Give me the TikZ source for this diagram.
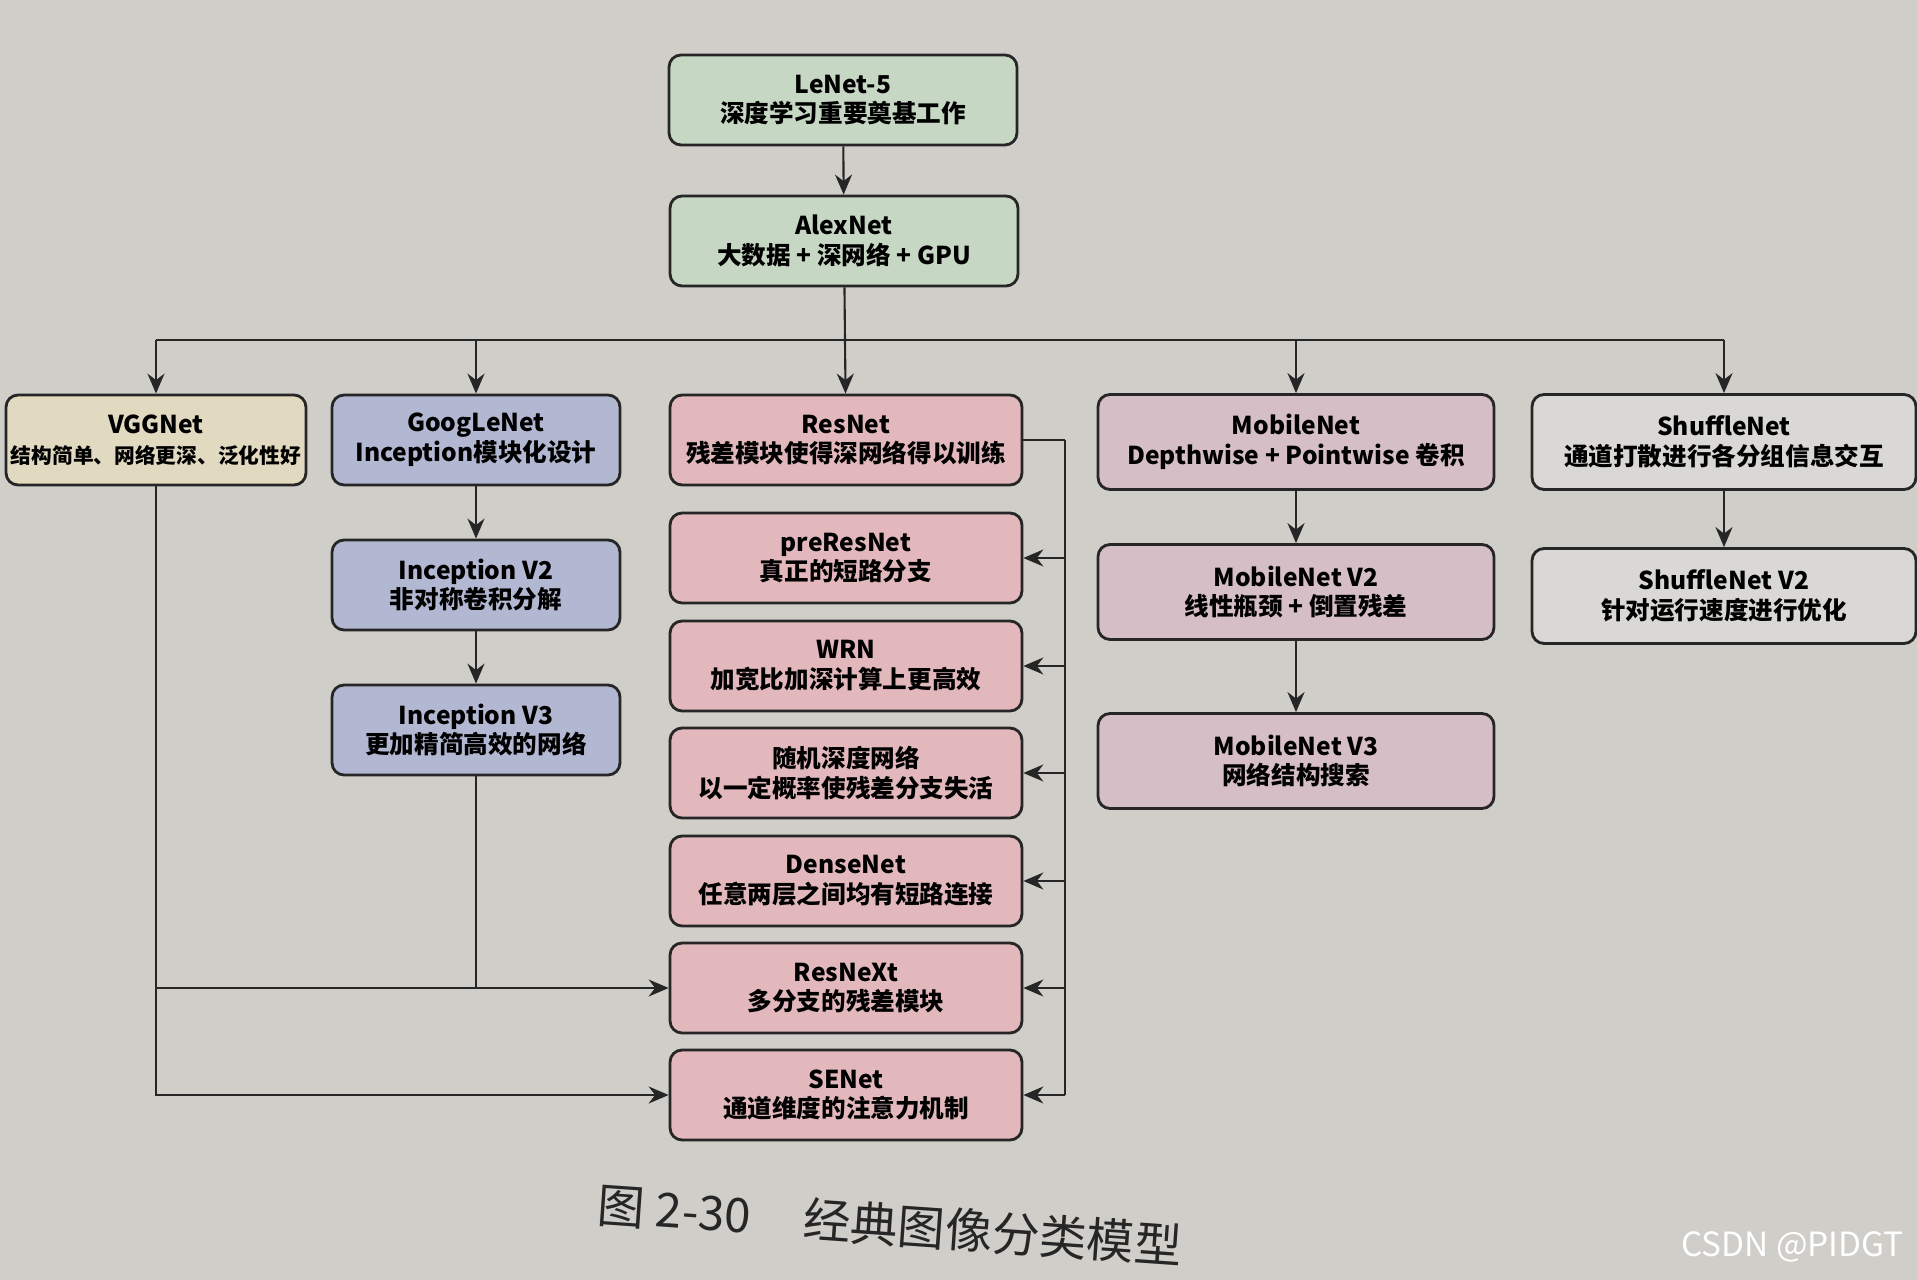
\documentclass[tikz,border=0pt]{standalone}
\usepackage{fontspec}
\setmainfont{Noto Sans CJK SC}
\usetikzlibrary{arrows.meta}
\definecolor{paper}{HTML}{D0CEC8}
\definecolor{lenetgreen}{HTML}{C6D8C4}
\definecolor{vggyellow}{HTML}{E2DAC0}
\definecolor{googblue}{HTML}{B2B8D2}
\definecolor{respink}{HTML}{E2B8BC}
\definecolor{mobmauve}{HTML}{D6BEC6}
\definecolor{shufgray}{HTML}{D9D8D5}

\begin{document}
\begin{tikzpicture}[x=0.02cm, y=-0.02cm, >={Stealth[length=4mm,width=3.4mm]},
  box/.style={draw=black!85, line width=1.6pt, rounded corners=2.4mm, align=center,
    font=\fontsize{14}{17}\selectfont\bfseries, inner sep=1pt, minimum height=1.8cm},
  greenbox/.style={box, fill=lenetgreen, minimum width=6.96cm},
  vggbox/.style={box, fill=vggyellow, minimum width=6.0cm},
  googbox/.style={box, fill=googblue, minimum width=5.76cm},
  resbox/.style={box, fill=respink, minimum width=7.04cm},
  mobbox/.style={box, fill=mobmauve, minimum width=7.92cm, minimum height=1.9cm},
  shufbox/.style={box, fill=shufgray, minimum width=7.68cm, minimum height=1.9cm},
  link/.style={line width=1.2pt, draw=black!85}]
  \useasboundingbox (0,0) rectangle (1917,1280);
  \clip (0,0) rectangle (1917,1280);
  \fill[paper] (0,0) rectangle (1917,1280);
  % root of the family tree
  \node[greenbox] (lenet) at (843,100) {LeNet-5\\深度学习重要奠基工作};
  \node[greenbox] (alexnet) at (844,241) {AlexNet\\大数据 + 深网络 + GPU};
  % second row
  \node[vggbox] (vgg) at (156,440)
    {VGGNet\\{\fontsize{11.8}{14}\selectfont 结构简单、网络更深、泛化性好}};
  \node[googbox] (googlenet) at (476,440) {GoogLeNet\\Inception模块化设计};
  \node[resbox] (resnet) at (846,440) {ResNet\\残差模块使得深网络得以训练};
  \node[mobbox] (mobilenet) at (1296,442) {MobileNet\\Depthwise + Pointwise 卷积};
  \node[shufbox] (shufflenet) at (1724,442) {ShuffleNet\\通道打散进行各分组信息交互};
  % inception branch
  \node[googbox] (incv2) at (476,585) {Inception V2\\非对称卷积分解};
  \node[googbox] (incv3) at (476,730) {Inception V3\\更加精简高效的网络};
  % resnet variants
  \node[resbox] (preresnet) at (846,558) {preResNet\\真正的短路分支};
  \node[resbox] (wrn) at (846,666) {WRN\\加宽比加深计算上更高效};
  \node[resbox] (stochdepth) at (846,773) {随机深度网络\\以一定概率使残差分支失活};
  \node[resbox] (densenet) at (846,881) {DenseNet\\任意两层之间均有短路连接};
  \node[resbox] (resnext) at (846,988) {ResNeXt\\多分支的残差模块};
  \node[resbox] (senet) at (846,1095) {SENet\\通道维度的注意力机制};
  % light-weight nets
  \node[mobbox] (mobilenetv2) at (1296,592) {MobileNet V2\\线性瓶颈 + 倒置残差};
  \node[mobbox] (mobilenetv3) at (1296,761) {MobileNet V3\\网络结构搜索};
  \node[shufbox] (shufflenetv2) at (1724,596) {ShuffleNet V2\\针对运行速度进行优化};

  \draw[link,->] (lenet) -- (alexnet);
  \draw[link,->] (alexnet) -- (resnet);
  \coordinate (bus) at (844,340);
  \draw[link] (vgg.north |- bus) -- (shufflenet.north |- bus);
  \foreach \n in {vgg,googlenet,mobilenet,shufflenet}
    \draw[link,->] (\n.north |- bus) -- (\n.north);
  \draw[link,->] (googlenet) -- (incv2);
  \draw[link,->] (incv2) -- (incv3);
  \draw[link,->] (mobilenet) -- (mobilenetv2);
  \draw[link,->] (mobilenetv2) -- (mobilenetv3);
  \draw[link,->] (shufflenet) -- (shufflenetv2);
  % resnet feeds its variants from the right
  \draw[link] (resnet.east) -- ++(42,0) coordinate (rtrunk);
  \draw[link] (rtrunk) -- (rtrunk |- senet.east);
  \foreach \n in {preresnet,wrn,stochdepth,densenet,resnext,senet}
    \draw[link,->] (rtrunk |- \n.east) -- (\n.east);
  % vgg and inception join in from the left
  \draw[link,->] (vgg.south) |- (senet.west);
  \draw[link,->] (vgg.south |- resnext.west) -- (resnext.west);
  \draw[link] (incv3.south) -- (incv3.south |- resnext.west);

  \node[font=\fontsize{27}{30}\selectfont, text=black!85, rotate=-4] (caption) at (890,1225)
    {图 2-30\hspace{1.1em}经典图像分类模型};
  \node[font=\fontsize{19}{22}\selectfont, text=white, anchor=east] (mark) at (1910,1247)
    {CSDN @PIDGT};
\end{tikzpicture}
\end{document}
